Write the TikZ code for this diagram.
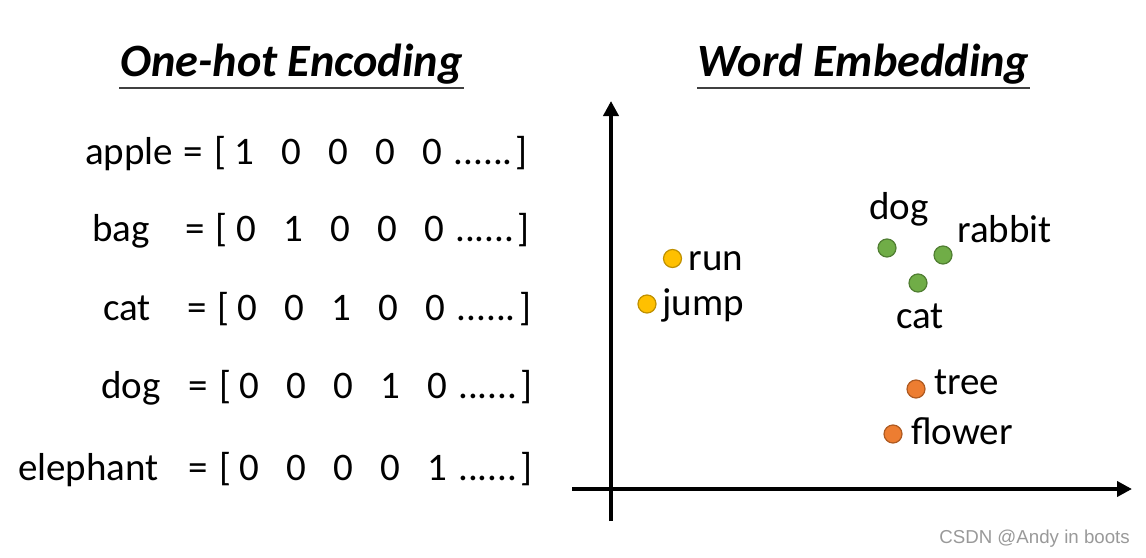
\documentclass[tikz,border=0pt]{standalone}
\usepackage{fontspec}
\setmainfont{Carlito}
\newfontfamily\wmfont{Liberation Sans}
\usetikzlibrary{arrows.meta}
\definecolor{ylwfill}{HTML}{FFC000}
\definecolor{ylwdraw}{HTML}{BF9000}
\definecolor{grnfill}{HTML}{70AD47}
\definecolor{grndraw}{HTML}{507E32}
\definecolor{orgfill}{HTML}{ED7D31}
\definecolor{orgdraw}{HTML}{AE5A21}
\definecolor{ulcol}{HTML}{404040}
\begin{document}
\begin{tikzpicture}[x=1pt,y=-1pt,
  txt/.style={inner sep=0pt, font=\fontsize{39}{39}\selectfont},
  ttl/.style={inner sep=0pt, font=\fontsize{46.3}{46}\selectfont\bfseries\itshape},
  uline/.style={draw=ulcol, line width=2pt},
  axis/.style={line width=4pt, -{Triangle[length=15pt,width=15pt]}},
  dot/.style={circle, inner sep=0pt, minimum size=18pt, line width=1.2pt},
  ydot/.style={dot, fill=ylwfill, draw=ylwdraw},
  gdot/.style={dot, fill=grnfill, draw=grndraw},
  odot/.style={dot, fill=orgfill, draw=orgdraw},
  wm/.style={inner sep=0pt, font=\wmfont\fontsize{18.7}{18}\selectfont, text=black!40}]
\useasboundingbox (0,0) rectangle (1146,557);
% titles
\node[ttl, anchor=base] (t1) at (291.5,76) {One-hot Encoding};
\node[ttl, anchor=base] (t2) at (863.5,76) {Word Embedding};
\coordinate (u1a) at (119,88); \coordinate (u1b) at (464,88);
\coordinate (u2a) at (697,88); \coordinate (u2b) at (1030,88);
\draw[uline] (u1a) -- (u1b);
\draw[uline] (u2a) -- (u2b);
% one-hot rows
\foreach \nm/\wx/\yb/\eqx/\lbx/\fx/\rbx/\a/\b/\c/\d/\e in {
  apple/85/164/193.5/220/244.5/521.5/1/0/0/0/0,
  bag/92/241/195/221.5/246/523.5/0/1/0/0/0,
  cat/103/320/197/223/247.5/525/0/0/1/0/0,
  dog/101/398/198/225/249/526/0/0/0/1/0,
  elephant/18/480/198/225/249/526/0/0/0/0/1}
{
  \node[txt, anchor=base west] (w-\nm) at (\wx,\yb) {\nm};
  \node[txt, anchor=base] (eq-\nm) at (\eqx,\yb) {=};
  \node[txt, anchor=base] (lb-\nm) at (\lbx,\yb) {[};
  \foreach \v [count=\i] in {\a,\b,\c,\d,\e}
    {\node[txt, anchor=base] (d-\nm-\i) at ({\fx+47*(\i-1)},\yb) {\v};}
  \node[txt, anchor=base west] (dots-\nm) at ({\fx+188+21},\yb) {......};
  \node[txt, anchor=base] (rb-\nm) at (\rbx,\yb) {]};
}
% axes
\coordinate (yb) at (611,521); \coordinate (yt) at (611,101);
\coordinate (xl) at (572,489); \coordinate (xr) at (1132,489);
\draw[axis] (yb) -- (yt);
\draw[axis] (xl) -- (xr);
% points
\node[ydot] (p-run) at (672.5,258.5) {};
\node[ydot] (p-jump) at (647,304) {};
\node[gdot] (p-dog) at (887,248) {};
\node[gdot] (p-rabbit) at (943,255) {};
\node[gdot] (p-cat) at (918,283) {};
\node[odot] (p-tree) at (916,389) {};
\node[odot] (p-flower) at (893,434) {};
% labels
\node[txt, anchor=base west] (l-run) at (688.5,270) {run};
\node[txt, anchor=base west] (l-jump) at (662,315) {jump};
\node[txt, anchor=base] (l-dog) at (899,219) {dog};
\node[txt, anchor=base west] (l-rabbit) at (957,242) {rabbit};
\node[txt, anchor=base] (l-cat) at (920,328) {cat};
\node[txt, anchor=base west] (l-tree) at (934,394) {tree};
\node[txt, anchor=base west] (l-flower) at (911,444) {flower};
% watermark
\node[wm, anchor=base east] (wmk) at (1130,543) {CSDN @Andy in boots};
\end{tikzpicture}
\end{document}
